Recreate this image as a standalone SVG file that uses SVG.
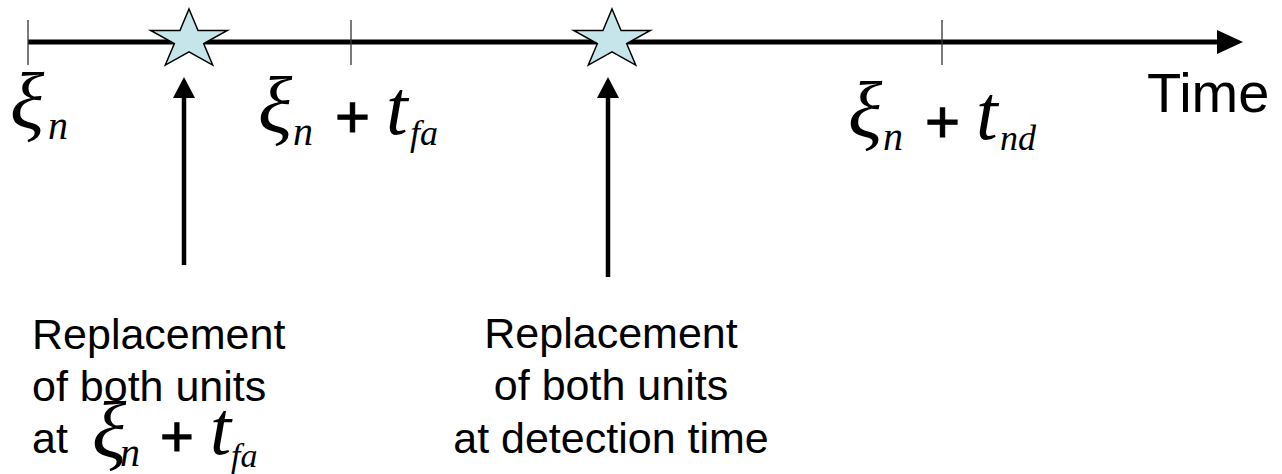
<svg xmlns="http://www.w3.org/2000/svg" width="1282" height="474" viewBox="0 0 1282 474">
  <style>
    .axis { stroke: #000; stroke-width: 5; fill: none; }
    .tick { stroke: #333; stroke-width: 1.3; }
    .ptr { stroke: #000; stroke-width: 4.5; fill: none; }
    .head { fill: #000; }
    .star { fill: #c6e5ea; stroke: #000; stroke-width: 1.5; stroke-linejoin: miter; }
    .sans { font-family: "Liberation Sans", Arial, sans-serif; fill: #000; }
    .math { font-family: "Liberation Serif", "Times New Roman", serif; font-style: italic; fill: #000; }
    .xi { font-family: "Liberation Serif", "Times New Roman", serif; font-style: italic; font-size: 80px; fill: #000; }
    .plus { font-family: "Liberation Sans", Arial, sans-serif; fill: #000; stroke: #000; stroke-width: 1.1; }
    .note { font-size: 43px; }
  </style>
  <defs>
    <!-- five-pointed star, stretched horizontally -->
    <polygon id="starShape" class="star" points="0,-31 9.05,-9.58 38.32,-9.58 14.64,3.66 23.69,25.08 0,11.84 -23.69,25.08 -14.64,3.66 -38.32,-9.58 -9.05,-9.58"/>
  </defs>

  <rect width="1282" height="474" fill="#fff"/>

  <!-- time axis, tick marks and pointer arrows -->
  <g id="connectors">
    <line class="axis" x1="28" y1="42" x2="1222" y2="42"/>
    <polygon class="head" points="1217,30 1243,42 1217,54"/>
    <line class="tick" x1="28" y1="20" x2="28" y2="65"/>
    <line class="tick" x1="351" y1="20" x2="351" y2="65"/>
    <line class="tick" x1="942" y1="20" x2="942" y2="65"/>
    <line class="ptr" x1="184" y1="265" x2="184" y2="96"/>
    <polygon class="head" points="173,98 184,77 195,98"/>
    <line class="ptr" x1="608" y1="277" x2="608" y2="96"/>
    <polygon class="head" points="597,98 608,77 619,98"/>
  </g>

  <!-- replacement events on the axis -->
  <g id="star-early"><use href="#starShape" x="189" y="40"/></g>
  <g id="star-detect"><use href="#starShape" x="612" y="40"/></g>

  <!-- axis labels -->
  <g id="label-xi">
    <text class="xi" x="10" y="128">ξ</text>
    <text class="math" x="48" y="139" font-size="40">n</text>
  </g>
  <g id="label-fa">
    <text class="xi" x="258" y="132">ξ</text>
    <text class="math" x="293" y="145" font-size="40">n</text>
    <text class="plus" x="335" y="137" font-size="60">+</text>
    <text class="math" x="386" y="134" font-size="78">t</text>
    <text class="math" x="410" y="145" font-size="36">fa</text>
  </g>
  <g id="label-nd">
    <text class="xi" x="848" y="137">ξ</text>
    <text class="math" x="883" y="150" font-size="40">n</text>
    <text class="plus" x="925" y="142" font-size="60">+</text>
    <text class="math" x="976" y="139" font-size="78">t</text>
    <text class="math" x="1000" y="150" font-size="36">nd</text>
  </g>
  <g id="label-time">
    <text class="sans" x="1147" y="112" font-size="56">Time</text>
  </g>

  <!-- explanatory notes below the arrows -->
  <g id="note-early">
    <text class="sans note" x="32" y="349">Replacement</text>
    <text class="sans note" x="32" y="401">of both units</text>
    <text class="sans note" x="32" y="453">at</text>
    <text class="xi" x="92" y="457" font-size="70">ξ</text>
    <text class="math" x="120" y="466" font-size="40">n</text>
    <text class="plus" x="160" y="456" font-size="58">+</text>
    <text class="math" x="210" y="454" font-size="76">t</text>
    <text class="math" x="231" y="467" font-size="34">fa</text>
  </g>
  <g id="note-detect">
    <text class="sans note" x="611" y="348" text-anchor="middle">Replacement</text>
    <text class="sans note" x="611" y="400" text-anchor="middle">of both units</text>
    <text class="sans note" x="611" y="453" text-anchor="middle">at detection time</text>
  </g>
</svg>
